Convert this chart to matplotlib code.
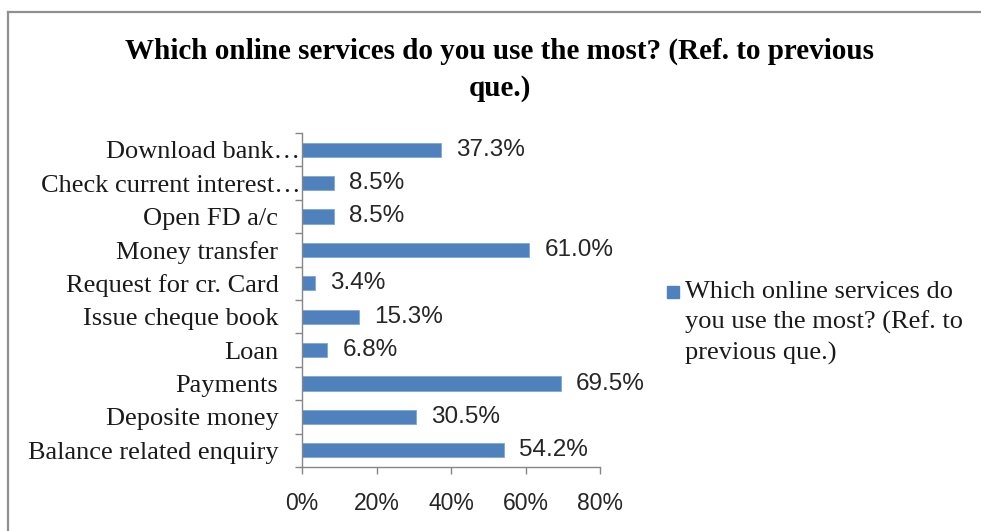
import matplotlib.pyplot as plt
from matplotlib.lines import Line2D
from matplotlib.transforms import ScaledTranslation

# survey answers, bottom to top as they appear on the axis
services = ['Balance related enquiry', 'Deposite money', 'Payments', 'Loan',
            'Issue cheque book', 'Request for cr. Card', 'Money transfer',
            'Open FD a/c', 'Check current interest\u2026', 'Download bank\u2026']
share = [54.2, 30.5, 69.5, 6.8, 15.3, 3.4, 61.0, 8.5, 8.5, 37.3]
xticks = [0, 20, 40, 60, 80]
series_name = 'Which online services do\nyou use the most? (Ref. to\nprevious que.)'
title = 'Which online services do you use the most? (Ref. to previous\nque.)'

bar_color = '#4f81bd'
axis_color = '#868686'
serif = 'Liberation Serif'
sans = 'Liberation Sans'

W, H = 981, 531
fig = plt.figure(figsize=(W / 100, H / 100), dpi=100)

# plot area in pixel coordinates
left, right, top, bottom = 302, 600, 133, 467
ax = fig.add_axes([left / W, (H - bottom) / H, (right - left) / W, (bottom - top) / H])

pos = list(range(len(services)))
ax.barh(pos, share, height=0.42, color=bar_color, edgecolor='#7fa6d4', linewidth=0.6)

for y, v in zip(pos, share):
    ax.annotate(f'{v:.1f}%', (v, y), xytext=(11, 0), textcoords='offset points',
                ha='left', va='center', fontsize=17.5, family=sans, color='#262626')

ax.set_xlim(0, 80)
ax.set_ylim(-0.5, len(services) - 0.5)
ax.set_xticks(xticks)
ax.set_xticklabels([f'{t}%' for t in xticks], family=sans, fontsize=16.5, color='#262626')
ax.set_yticks(pos)
ax.set_yticklabels(services, family=serif, fontsize=19, color='#1a1a1a')
ax.set_yticks([p - 0.5 for p in pos] + [len(services) - 0.5], minor=True)

ax.tick_params(axis='y', which='major', length=0, pad=17)
ax.tick_params(axis='y', which='minor', length=5, color=axis_color, width=1)
ax.tick_params(axis='x', length=5, color=axis_color, width=1, pad=13)

# truncated labels sit closer to the axis
for lab in ax.get_yticklabels():
    if lab.get_text().endswith('\u2026'):
        lab.set_transform(lab.get_transform() + ScaledTranslation(0.22, 0, fig.dpi_scale_trans))

for s in ['top', 'right']:
    ax.spines[s].set_visible(False)
for s in ['left', 'bottom']:
    ax.spines[s].set_color(axis_color)
    ax.spines[s].set_linewidth(1)

fig.text(500 / W, 1 - 70 / H, title, ha='center', va='center', family=serif,
         fontsize=21, fontweight='bold', linespacing=1.45)

# legend entry
fig.patches.append(plt.Rectangle((667 / W, 1 - 298 / H), 12 / W, 12 / H,
                                 transform=fig.transFigure, color=bar_color))
fig.text(685 / W, 1 - 323 / H, series_name, ha='left', va='center', family=serif,
         fontsize=19, linespacing=1.45, color='#1a1a1a')

# chart border
fig.add_artist(Line2D([8 / W, 8 / W], [0, 1 - 12 / H], color='#909090', lw=1.6))
fig.add_artist(Line2D([8 / W, 1], [1 - 12 / H, 1 - 12 / H], color='#909090', lw=1.6))

fig.savefig('out.png', dpi=100)
